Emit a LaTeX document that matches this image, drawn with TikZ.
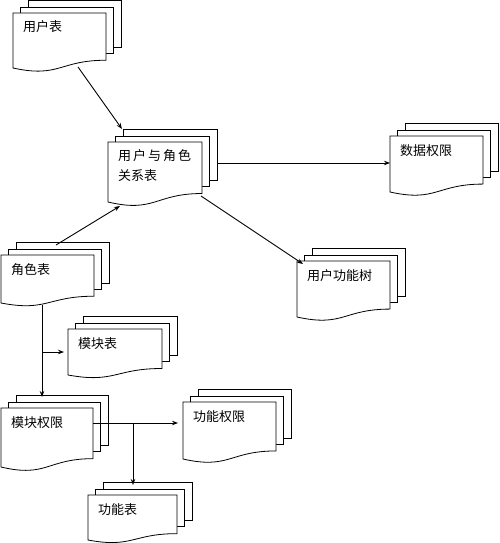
\documentclass[tikz,border=0pt]{standalone}
\usepackage{fontspec}
\newfontfamily\cjk{Noto Sans CJK SC}
\usetikzlibrary{arrows.meta}
\newcommand\mdoc[7]{%
 \pgfmathsetmacro\mdH{#5/0.934}%
 \pgfmathsetmacro\mdR{#3+0.802*\mdH}%
 \pgfmathsetmacro\mdL{#3+#5}%
 \pgfmathsetmacro\mdC{#3+1.107*\mdH}%
 \draw[page] ({#2+15},{#3-12.5}) rectangle ({#2+15+#4},{\mdR-13});
 \draw[page] ({#2+7.5},{#3-6}) rectangle ({#2+7.5+#4},{\mdR-7});
 \draw[page] (#2,#3) -- ({#2+#4},#3) -- ({#2+#4},\mdR) .. controls ({#2+0.5*#4},\mdR) and ({#2+0.5*#4},\mdC) .. (#2,\mdL) -- cycle;
 \node[lbl] (#1) at ({#2+10},{#3+#7}) {#6};
}
\begin{document}
\begin{tikzpicture}[x=1pt,y=-1pt,
  page/.style={draw=black,fill=white,line width=0.8pt},
  lbl/.style={anchor=base west,inner sep=0pt,align=left,font=\cjk\fontsize{13}{20}\selectfont},
  arr/.style={draw=black,line width=0.9pt,-{Stealth[length=6pt,width=4.5pt]}}]
\useasboundingbox (0,0) rectangle (500,543);
\fill[white] (0,0) rectangle (500,543);
\mdoc{yhb}{13}{13}{93}{55}{用户表}{19}
\mdoc{gxb}{108}{142}{94}{60}{用\kern2pt户\kern2pt与\kern2pt角\kern2pt色\\关系表}{38}
\mdoc{sjqx}{390}{136}{93}{56}{数据权限}{19}
\mdoc{gns}{297}{261}{93}{56}{用户功能树}{19}
\mdoc{jsb}{1}{255}{93}{48}{角色表}{19}
\mdoc{mkb}{68}{329}{94}{46}{模块表}{19}
\mdoc{mkqx}{1}{408}{92}{59}{模块权限}{19}
\mdoc{gnqx}{183}{402}{93}{57}{功能权限}{19}
\mdoc{gnb}{88}{495}{89}{45}{功能表}{19}
% connector ends
\coordinate (a1) at (78,67);   \coordinate (a2) at (122,129);
\coordinate (b1) at (56,245);  \coordinate (b2) at (120,206);
\coordinate (c1) at (217,163); \coordinate (c2) at (390,163);
\coordinate (d1) at (201,196); \coordinate (d2) at (303,264);
\coordinate (e1) at (42,305);  \coordinate (e2) at (42,397);
\coordinate (e3) at (42,352);  \coordinate (e4) at (64,352);
\coordinate (f1) at (93,423);  \coordinate (f2) at (178,423);
\coordinate (f3) at (133,423); \coordinate (f4) at (133,485);
\draw[arr] (a1) -- (a2);
\draw[arr] (b1) -- (b2);
\draw[arr] (c1) -- (c2);
\draw[arr] (d1) -- (d2);
\draw[arr] (e1) -- (e2);
\draw[arr] (e3) -- (e4);
\draw[arr] (f1) -- (f2);
\draw[arr] (f3) -- (f4);
\end{tikzpicture}
\end{document}
